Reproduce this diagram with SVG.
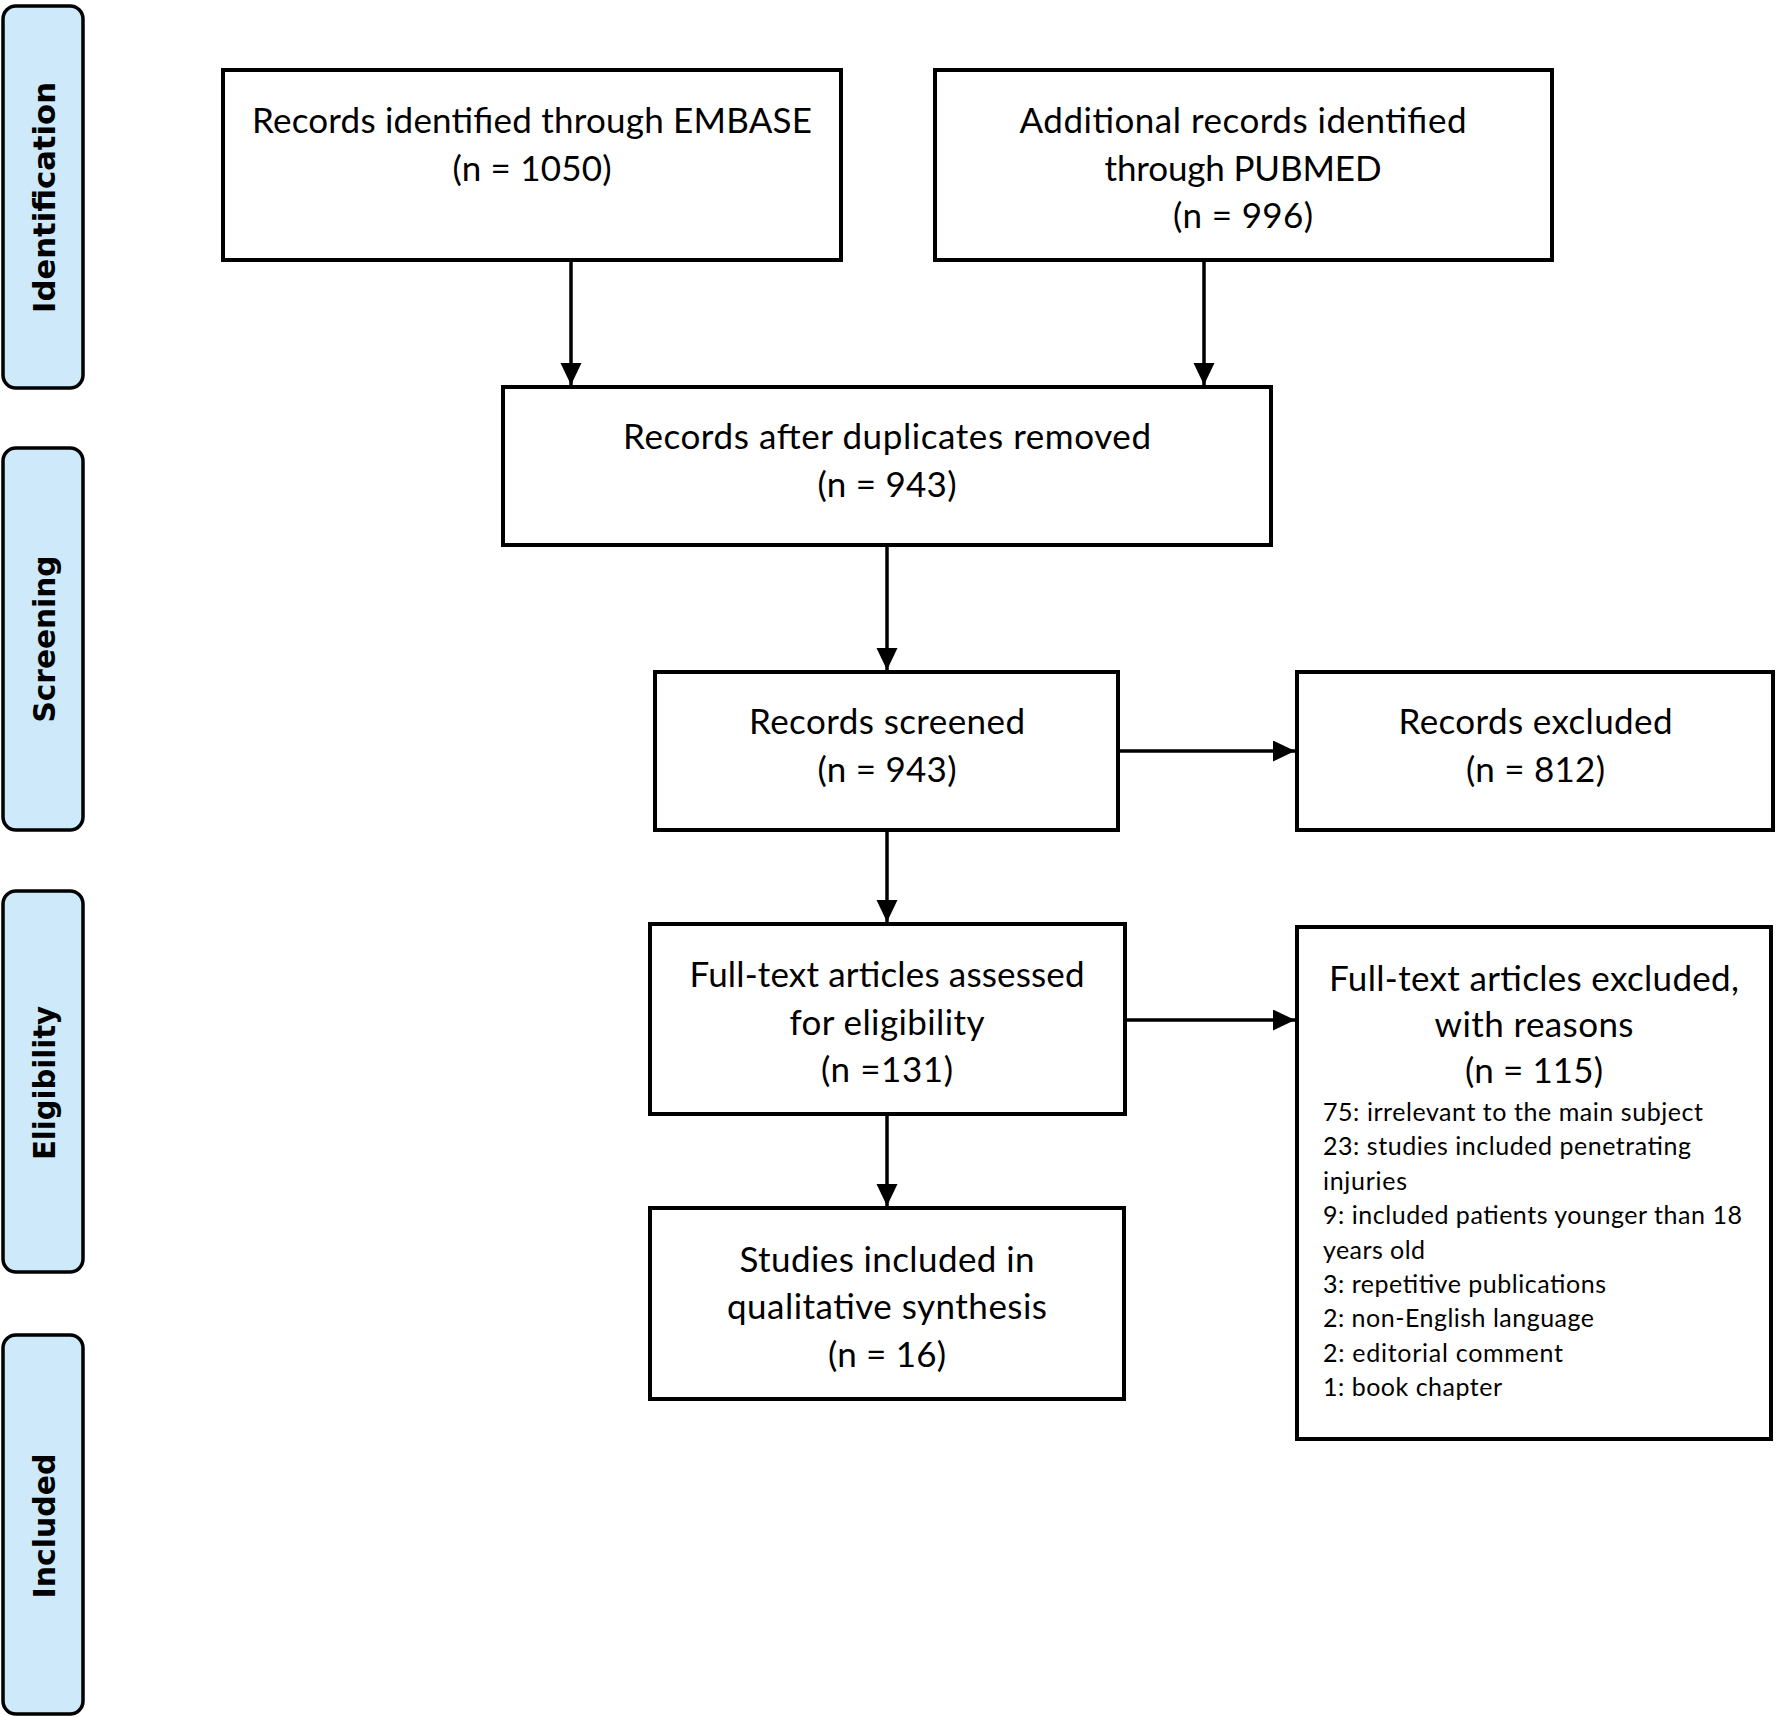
<svg xmlns="http://www.w3.org/2000/svg" width="1776" height="1717" viewBox="0 0 1776 1717">
<style>
.bg{fill:#ffffff}
.phase rect{fill:#cde9fa;stroke:#000;stroke-width:3.5}
.phase text{font-family:"DejaVu Sans",Verdana,sans-serif;font-weight:bold;font-size:31px;fill:#000;text-anchor:middle}
.node rect{fill:#fff;stroke:#000;stroke-width:4}
.node text{font-family:Lato,"Open Sans",sans-serif;font-size:35px;fill:#000;text-anchor:middle}
.node text.small{font-size:25px;text-anchor:start}
.edges line{stroke:#000;stroke-width:3.5;fill:none}
</style>
<defs>
<marker id="arr" markerUnits="userSpaceOnUse" markerWidth="24" markerHeight="22" refX="22" refY="10.5" orient="auto">
<path d="M0,0 L22,10.5 L0,21 z" fill="#000"/>
</marker>
</defs>
<rect class="bg" x="0" y="0" width="1776" height="1717"/>

<g id="phase-identification" class="phase">
<rect x="3" y="6" width="80" height="382" rx="13"/>
<text transform="translate(55,197.5) rotate(-90)" textLength="231" lengthAdjust="spacingAndGlyphs">Identification</text>
</g>
<g id="phase-screening" class="phase">
<rect x="3" y="448" width="80" height="382" rx="13"/>
<text transform="translate(55,639) rotate(-90)" textLength="167" lengthAdjust="spacingAndGlyphs">Screening</text>
</g>
<g id="phase-eligibility" class="phase">
<rect x="3" y="891" width="80" height="381" rx="13"/>
<text transform="translate(55,1083) rotate(-90)" textLength="154" lengthAdjust="spacingAndGlyphs">Eligibility</text>
</g>
<g id="phase-included" class="phase">
<rect x="3" y="1335" width="80" height="379" rx="13"/>
<text transform="translate(55,1526) rotate(-90)" textLength="145" lengthAdjust="spacingAndGlyphs">Included</text>
</g>

<g id="edges" class="edges">
<line x1="571" y1="260" x2="571" y2="385" marker-end="url(#arr)"/>
<line x1="1204" y1="260" x2="1204" y2="385" marker-end="url(#arr)"/>
<line x1="887" y1="545" x2="887" y2="670" marker-end="url(#arr)"/>
<line x1="1118" y1="751" x2="1295" y2="751" marker-end="url(#arr)"/>
<line x1="887" y1="830" x2="887" y2="922" marker-end="url(#arr)"/>
<line x1="1125" y1="1020" x2="1295" y2="1020" marker-end="url(#arr)"/>
<line x1="887" y1="1114" x2="887" y2="1206" marker-end="url(#arr)"/>
</g>

<g id="node-embase" class="node">
<rect x="223" y="70" width="618" height="190"/>
<text x="532" y="133" textLength="560">Records identified through EMBASE</text>
<text x="532" y="181" textLength="159">(n = 1050)</text>
</g>
<g id="node-pubmed" class="node">
<rect x="935" y="70" width="617" height="190"/>
<text x="1243" y="133" textLength="447">Additional records identified</text>
<text x="1243" y="180.5" textLength="277">through PUBMED</text>
<text x="1243" y="228" textLength="140">(n = 996)</text>
</g>
<g id="node-duplicates" class="node">
<rect x="503" y="387" width="768" height="158"/>
<text x="887" y="449" textLength="528">Records after duplicates removed</text>
<text x="887" y="497" textLength="139">(n = 943)</text>
</g>
<g id="node-screened" class="node">
<rect x="655" y="672" width="463" height="158"/>
<text x="887" y="734" textLength="276">Records screened</text>
<text x="887" y="782" textLength="139">(n = 943)</text>
</g>
<g id="node-excluded" class="node">
<rect x="1297" y="672" width="476" height="158"/>
<text x="1535.5" y="734" textLength="274">Records excluded</text>
<text x="1535.5" y="782" textLength="139">(n = 812)</text>
</g>
<g id="node-fulltext" class="node">
<rect x="650" y="924" width="475" height="190"/>
<text x="887" y="987" textLength="395">Full-text articles assessed</text>
<text x="887" y="1035" textLength="195">for eligibility</text>
<text x="887" y="1082" textLength="132">(n =131)</text>
</g>
<g id="node-fulltext-excluded" class="node">
<rect x="1297" y="927" width="474" height="512"/>
<text x="1534" y="991" textLength="410">Full-text articles excluded,</text>
<text x="1534" y="1037" textLength="199">with reasons</text>
<text x="1534" y="1083" textLength="138">(n = 115)</text>
<text class="small" x="1323" y="1121" textLength="380">75: irrelevant to the main subject</text>
<text class="small" x="1323" y="1155.4" textLength="368">23: studies included penetrating</text>
<text class="small" x="1323" y="1189.8" textLength="84">injuries</text>
<text class="small" x="1323" y="1224.2" textLength="419">9: included patients younger than 18</text>
<text class="small" x="1323" y="1258.6" textLength="102">years old</text>
<text class="small" x="1323" y="1293" textLength="283">3: repetitive publications</text>
<text class="small" x="1323" y="1327.4" textLength="271">2: non-English language</text>
<text class="small" x="1323" y="1361.8" textLength="240">2: editorial comment</text>
<text class="small" x="1323" y="1396.2" textLength="179">1: book chapter</text>
</g>
<g id="node-included" class="node">
<rect x="650" y="1208" width="474" height="191"/>
<text x="887" y="1272" textLength="295">Studies included in</text>
<text x="887" y="1319" textLength="320">qualitative synthesis</text>
<text x="887" y="1367" textLength="118">(n = 16)</text>
</g>
</svg>
